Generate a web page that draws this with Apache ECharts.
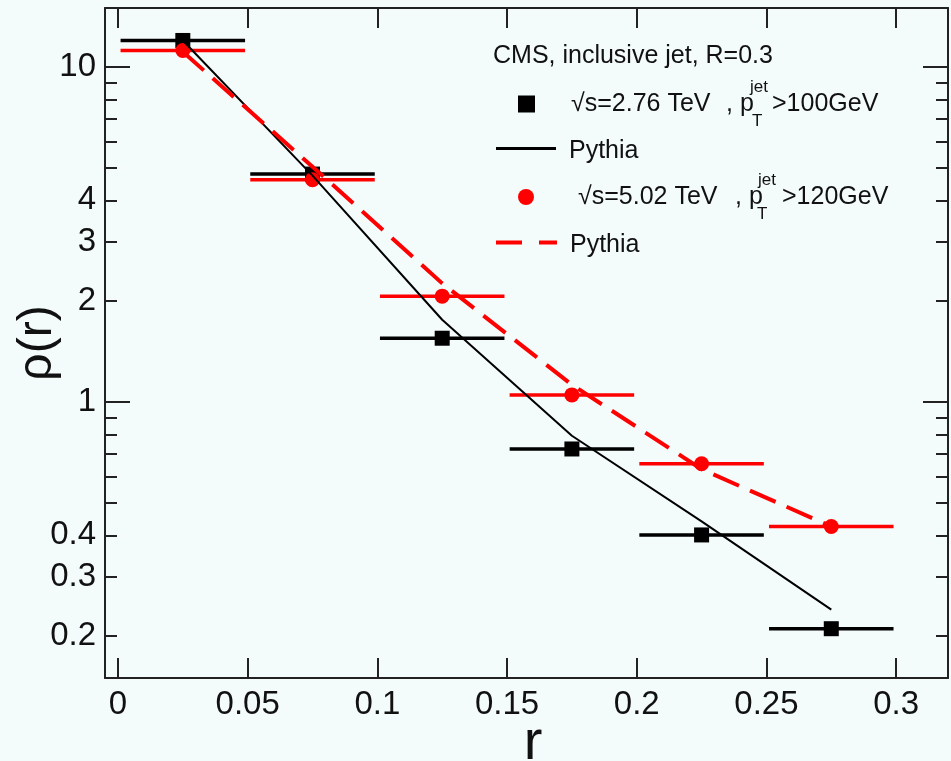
<!DOCTYPE html>
<html><head><meta charset="utf-8">
<script src="https://cdn.jsdelivr.net/npm/echarts@6/dist/echarts.min.js"></script>
<style>html,body{margin:0;padding:0;background:#f4fbfb;} #c{width:951px;height:761px;}</style>
</head><body><div id="c"></div>
<script>
// ---- data ----
const rCenters = [0.025, 0.075, 0.125, 0.175, 0.225, 0.275];
const rLow = [0.001, 0.051, 0.101, 0.151, 0.201, 0.251];
const rHigh = [0.049, 0.099, 0.149, 0.199, 0.249, 0.299];
const rho276 = [12.0, 4.79, 1.55, 0.724, 0.401, 0.2105];
const rho502 = [11.2, 4.61, 2.07, 1.05, 0.654, 0.425];
const pythia276 = [12.0, 4.74, 1.76, 0.793, 0.44, 0.24];
const pythia502 = [11.1, 5.04, 2.26, 1.126, 0.63, 0.425];
const xTicks = [0, 0.05, 0.1, 0.15, 0.2, 0.25, 0.3];
const xTickLabels = ['0', '0.05', '0.1', '0.15', '0.2', '0.25', '0.3'];
const yLabelValues = [0.2, 0.3, 0.4, 1, 2, 3, 4, 10];
const yLabelTexts = ['0.2', '0.3', '0.4', '1', '2', '3', '4', '10'];
const yMinorTicks = [0.2, 0.3, 0.4, 0.5, 0.6, 0.7, 0.8, 0.9, 2, 3, 4, 5, 6, 7, 8, 9];
const yMajorTicks = [1, 10];

const FONT = 'Liberation Sans';
const AX = '#222';

function lookup(vals, texts, v) {
  for (let i = 0; i < vals.length; i++) if (Math.abs(vals[i] - v) < 1e-9 * Math.max(1, Math.abs(v))) return texts[i];
  return '';
}

const chart = echarts.init(document.getElementById('c'), null, {renderer: 'canvas'});

function xAxisDef(pos, withLabels) {
  return {
    type: 'value', position: pos, min: -0.005, max: 0.32,
    axisLine: {show: true, onZero: false, lineStyle: {color: AX, width: 2}},
    axisTick: {show: true, inside: true, length: 20, customValues: xTicks, lineStyle: {color: AX, width: 2}},
    axisLabel: withLabels ? {
      show: true, customValues: xTicks, margin: 10, fontSize: 33, color: '#111', fontFamily: FONT,
      formatter: v => lookup(xTicks, xTickLabels, v)
    } : {show: false},
    splitLine: {show: false}
  };
}
function yAxisDef(pos, ticks, len, withLine, withLabels) {
  return {
    type: 'log', logBase: 10, position: pos, min: 0.15, max: 15,
    axisLine: {show: withLine, onZero: false, lineStyle: {color: AX, width: 2}},
    axisTick: {show: true, inside: true, length: len, customValues: ticks, lineStyle: {color: AX, width: 2}},
    axisLabel: withLabels ? {
      show: true, customValues: yLabelValues, margin: 9, fontSize: 33, color: '#111', fontFamily: FONT,
      formatter: v => lookup(yLabelValues, yLabelTexts, v)
    } : {show: false},
    splitLine: {show: false}, minorTick: {show: false}
  };
}

const xA = xAxisDef('bottom', true);
xA.name = 'r';
xA.nameLocation = 'middle';
xA.nameGap = 38;
xA.nameMoveOverlap = false;
xA.nameTextStyle = {fontSize: 56, fontFamily: FONT, color: '#111', padding: [0, 0, 0, 13]};

const yA = yAxisDef('left', yMinorTicks, 12, true, true);
yA.name = 'ρ(r)';
yA.nameLocation = 'middle';
yA.nameGap = 43;
yA.nameMoveOverlap = false;
yA.nameTextStyle = {fontSize: 48, fontFamily: FONT, color: '#111'};

const errBar = (color, width) => function (params, api) {
  const y = api.value(2);
  const p1 = api.coord([api.value(0), y]);
  const p2 = api.coord([api.value(1), y]);
  return {type: 'line', shape: {x1: p1[0], y1: p1[1], x2: p2[0], y2: p2[1]}, style: {stroke: color, lineWidth: width}};
};

const richBase = {fontFamily: FONT, color: '#111', lineHeight: 17};
function dataLegendRich(s0, m1, m2, s1, s2) {
  return {
    s0: Object.assign({}, richBase, {width: s0, fontSize: 25}),
    m1: Object.assign({}, richBase, {width: m1, fontSize: 25}),
    m2: Object.assign({}, richBase, {width: m2, fontSize: 25}),
    m3: Object.assign({}, richBase, {fontSize: 25}),
    s1: Object.assign({}, richBase, {width: s1, fontSize: 17}),
    s2: Object.assign({}, richBase, {width: s2, fontSize: 17}),
    sup: Object.assign({}, richBase, {fontSize: 17}),
    sub: Object.assign({}, richBase, {fontSize: 17})
  };
}
const pythiaRich = {
  s: {width: 8, fontSize: 25, fontFamily: FONT, lineHeight: 26},
  m: {fontSize: 25, fontFamily: FONT, color: '#111', lineHeight: 26, padding: [6, 0, 0, 0]}
};

const option = {
  backgroundColor: '#f4fbfb',
  animation: false,
  title: {
    text: 'CMS, inclusive jet, R=0.3', left: 493, top: 44, padding: 0,
    textStyle: {fontSize: 25, fontWeight: 'normal', color: '#111', fontFamily: FONT}
  },
  legend: [
    {
      data: [{name: 'data276', icon: 'rect'}], left: 518, top: 78.5, padding: 0,
      itemWidth: 17, itemHeight: 17, selectedMode: false, itemStyle: {borderWidth: 0, opacity: 1},
      formatter: () => '{s1|}{sup|jet}\n{s0|}{m1|√s=2.76 TeV}{m2|, p}{m3|>100GeV}\n{s2|}{sub|T}',
      textStyle: {fontFamily: FONT, rich: dataLegendRich(31, 155, 46, 210, 212)}
    },
    {
      data: [{name: 'pythia276', icon: 'path://M0,0H60V3H0Z'}], left: 496, top: 133, padding: 0,
      itemWidth: 60, itemHeight: 3, selectedMode: false, itemStyle: {borderWidth: 0},
      formatter: () => '{s|}{m|Pythia}',
      textStyle: {fontFamily: FONT, rich: pythiaRich}
    },
    {
      data: [{name: 'data502', icon: 'circle'}], left: 518, top: 171.5, padding: 0,
      itemWidth: 16, itemHeight: 16, selectedMode: false, itemStyle: {borderWidth: 0, opacity: 1},
      formatter: () => '{s1|}{sup|jet}\n{s0|}{m1|√s=5.02 TeV}{m2|, p}{m3|>120GeV}\n{s2|}{sub|T}',
      textStyle: {fontFamily: FONT, rich: dataLegendRich(39, 157, 47, 219, 218)}
    },
    {
      data: [{name: 'pythia502', icon: 'path://M0,0H26V4H0ZM43,0H61V4H43Z'}], left: 496, top: 227, padding: 0,
      itemWidth: 61, itemHeight: 4, selectedMode: false, itemStyle: {borderWidth: 0},
      formatter: () => '{s|}{m|Pythia}',
      textStyle: {fontFamily: FONT, rich: pythiaRich}
    }
  ],
  grid: {left: 105, right: 3, top: 8, bottom: 83, containLabel: false, outerBoundsMode: 'none'},
  xAxis: [xA, xAxisDef('top', false)],
  yAxis: [
    yA,
    yAxisDef('left', yMajorTicks, 25, false, false),
    yAxisDef('right', yMinorTicks, 12, true, false),
    yAxisDef('right', yMajorTicks, 25, false, false)
  ],
  series: [
    {
      name: 'err276', type: 'custom', xAxisIndex: 0, yAxisIndex: 0,
      renderItem: errBar('#000', 3.5), encode: {x: [0, 1], y: 2},
      data: rCenters.map((c, i) => [rLow[i], rHigh[i], rho276[i]]), z: 2
    },
    {
      name: 'err502', type: 'custom', xAxisIndex: 0, yAxisIndex: 0,
      renderItem: errBar('#ff0000', 3.5), encode: {x: [0, 1], y: 2},
      data: rCenters.map((c, i) => [rLow[i], rHigh[i], rho502[i]]), z: 2
    },
    {
      name: 'data276', type: 'scatter', symbol: 'rect', symbolSize: 15,
      itemStyle: {color: '#000', opacity: 1}, data: rCenters.map((c, i) => [c, rho276[i]]), z: 3
    },
    {
      name: 'data502', type: 'scatter', symbol: 'circle', symbolSize: 15,
      itemStyle: {color: '#ff0000', opacity: 1}, data: rCenters.map((c, i) => [c, rho502[i]]), z: 3
    },
    {
      name: 'pythia276', type: 'line', symbol: 'none', color: '#000',
      itemStyle: {color: '#000'}, lineStyle: {color: '#000', width: 2},
      data: rCenters.map((c, i) => [c, pythia276[i]]), z: 4
    },
    {
      name: 'pythia502', type: 'line', symbol: 'none', color: '#ff0000',
      itemStyle: {color: '#ff0000'}, lineStyle: {color: '#ff0000', width: 4, type: [28, 12]},
      data: rCenters.map((c, i) => [c, pythia502[i]]), z: 4
    }
  ]
};
chart.setOption(option);
</script>
</body></html>
